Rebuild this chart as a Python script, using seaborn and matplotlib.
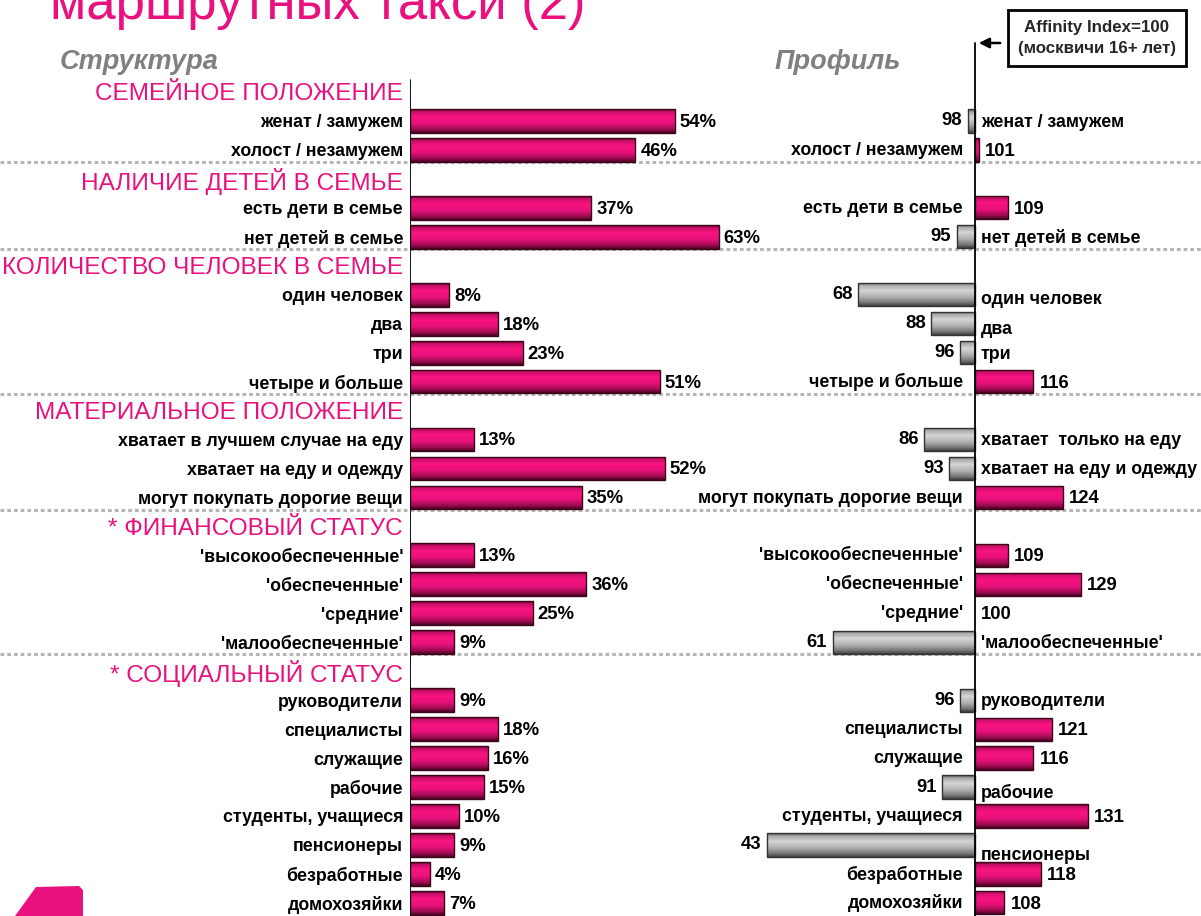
import numpy as np
import pandas as pd
import matplotlib
matplotlib.use("Agg")
import matplotlib.pyplot as plt
import seaborn as sns
from matplotlib import font_manager
from matplotlib.colors import LinearSegmentedColormap
from matplotlib.patches import Polygon, FancyArrowPatch

# ---------------- data ----------------
groups = ["СЕМЕЙНОЕ ПОЛОЖЕНИЕ", "НАЛИЧИЕ ДЕТЕЙ В СЕМЬЕ", "КОЛИЧЕСТВО ЧЕЛОВЕК В СЕМЬЕ",
          "МАТЕРИАЛЬНОЕ ПОЛОЖЕНИЕ", "* ФИНАНСОВЫЙ СТАТУС", "* СОЦИАЛЬНЫЙ СТАТУС"]
group_sizes = [2, 2, 4, 3, 4, 8]
structure_labels = ["женат / замужем", "холост / незамужем",
                    "есть дети в семье", "нет детей в семье",
                    "один человек", "два", "три", "четыре и больше",
                    "хватает в лучшем случае на еду", "хватает на еду и одежду", "могут покупать дорогие вещи",
                    "'высокообеспеченные'", "'обеспеченные'", "'средние'", "'малообеспеченные'",
                    "руководители", "специалисты", "служащие", "рабочие", "студенты, учащиеся",
                    "пенсионеры", "безработные", "домохозяйки"]
structure_pct = [54, 46, 37, 63, 8, 18, 23, 51, 13, 52, 35, 13, 36, 25, 9, 9, 18, 16, 15, 10, 9, 4, 7]
profile_labels = ["женат / замужем", "холост / незамужем",
                  "есть дети в семье", "нет детей в семье",
                  "один человек", "два", "три", "четыре и больше",
                  "хватает  только на еду", "хватает на еду и одежду", "могут покупать дорогие вещи",
                  "'высокообеспеченные'", "'обеспеченные'", "'средние'", "'малообеспеченные'",
                  "руководители", "специалисты", "служащие", "рабочие", "студенты, учащиеся",
                  "пенсионеры", "безработные", "домохозяйки"]
affinity = [98, 101, 109, 95, 68, 88, 96, 116, 86, 93, 124, 109, 129, 100, 61,
            96, 121, 116, 91, 131, 43, 118, 108]
affinity_base = 100
title_text = "маршрутных такси (2)"
left_title = "Структура"
right_title = "Профиль"
box_text = "Affinity Index=100\n(москвичи 16+ лет)"

# ---------------- styling ----------------
W, H = 1201, 916
PINK = "#E8117E"
GREY = "#A8A8A8"
names = {f.name for f in font_manager.fontManager.ttflist}
NARROW = "Liberation Sans Narrow" in names
LBL_FONT = ["Liberation Sans Narrow", "DejaVu Sans"] if NARROW else ["Liberation Sans", "DejaVu Sans"]
LBL_SIZE = 14.5 if NARROW else 12.8
HDR_FONT = ["Liberation Sans", "DejaVu Sans"]

sns.set_theme(style="white")
plt.rcParams["font.family"] = ["Liberation Sans", "DejaVu Sans"]

# slot layout (header row + items per group)
slots, slot_text, item_rows, header_rows, sep_rows = [], [], [], [], []
k = 0
for g, (name, n) in enumerate(zip(groups, group_sizes)):
    header_rows.append(len(slots))
    slots.append(f"H{g}")
    slot_text.append(name)
    for _ in range(n):
        item_rows.append(len(slots))
        slots.append(f"I{k}")
        slot_text.append(structure_labels[k])
        k += 1
    if g < len(groups) - 1:
        sep_rows.append(len(slots) - 1 + 0.42)

df = pd.DataFrame({
    "slot": [f"I{i}" for i in range(len(structure_pct))],
    "pct": structure_pct,
    "dev": np.array(affinity) - affinity_base,
    "sign": ["above" if a >= affinity_base else "below" for a in affinity],
})

ROW0, ROWSTEP = 92.0, 28.96
ylim = ((H - ROW0) / ROWSTEP, -ROW0 / ROWSTEP)

fig = plt.figure(figsize=(W / 100, H / 100), dpi=100)
fig.patch.set_facecolor("white")

def fx(x):
    return x / W

def fy(y):
    return 1 - y / H

# background axes for separators
bg = fig.add_axes([0, 0, 1, 1], zorder=0)
bg.set_xlim(0, 1)
bg.set_ylim(*ylim)
bg.axis("off")
bg.hlines(sep_rows, 0, 1, colors="#b5b5b5", linestyles=(0, (1.2, 1.0)), linewidth=2.2)

# ---------------- left panel ----------------
L_PX, L_SCALE = 410, 4.9
axL = fig.add_axes([fx(L_PX), 0, fx(380), 1], zorder=2)
axL.patch.set_alpha(0)
sns.barplot(data=df, x="pct", y="slot", order=slots, orient="h", color=PINK,
            width=0.82, edgecolor="#3a0618", linewidth=1.0, errorbar=None, ax=axL)

# ---------------- right panel ----------------
R_PX, R_SCALE = 975, 3.65
axR = fig.add_axes([fx(600), 0, fx(601), 1], zorder=2)
axR.patch.set_alpha(0)
sns.barplot(data=df, x="dev", y="slot", order=slots, orient="h", hue="sign",
            palette={"above": PINK, "below": GREY}, dodge=False, legend=False,
            width=0.8, edgecolor="#2a2a2a", linewidth=1.0, errorbar=None, ax=axR)

pink_cmap = LinearSegmentedColormap.from_list(
    "pg", [(0, "#5a0428"), (0.1, "#c80f68"), (0.32, "#f8147f"), (0.6, "#e8117c"), (0.85, "#a00c52"), (1, "#4a0322")])
grey_cmap = LinearSegmentedColormap.from_list(
    "gg", [(0, "#505050"), (0.12, "#a8a8a8"), (0.35, "#d6d6d6"), (0.62, "#b0b0b0"), (0.85, "#7a7a7a"), (1, "#404040")])
grad = np.linspace(0, 1, 64).reshape(-1, 1)

def shade(ax, pink_rule):
    for p in list(ax.patches):
        w = p.get_width()
        if abs(w) < 1e-9:
            p.set_visible(False)
            continue
        is_pink = pink_rule(w)
        cmap = pink_cmap if is_pink else grey_cmap
        x0, y0, h = p.get_x(), p.get_y(), p.get_height()
        im = ax.imshow(grad, extent=[x0, x0 + w, y0 + h, y0], origin="upper",
                       aspect="auto", cmap=cmap, zorder=2, interpolation="bilinear")
        im.set_clip_path(p)
        p.set_facecolor("none")
        p.set_edgecolor("#3a0618" if is_pink else "#333333")
        p.set_zorder(3)

shade(axL, lambda w: True)
shade(axR, lambda w: w > 0)

axL.set_xlim(0, 380 / L_SCALE)
axR.set_xlim(-(R_PX - 600) / R_SCALE, (W - R_PX) / R_SCALE)
for ax in (axL, axR):
    ax.set_ylim(*ylim)
    for s in ax.spines.values():
        s.set_visible(False)
    ax.set_xticks([])
    ax.set_xlabel("")
    ax.set_ylabel("")

# left tick labels (categories + pink headers)
axL.set_yticks(range(len(slots)))
axL.set_yticklabels(slot_text)
axL.tick_params(axis="y", length=0, pad=5)
for i, t in enumerate(axL.get_yticklabels()):
    if i in header_rows:
        t.set_color(PINK)
        t.set_fontsize(17.6)
        t.set_family(HDR_FONT)
    else:
        t.set_color("black")
        t.set_fontsize(LBL_SIZE)
        t.set_family(LBL_FONT)
        t.set_fontweight("bold")
axR.set_yticks([])

axL.axvline(0, ymin=0, ymax=(H - 80) / H, color="black", lw=1.3, zorder=4)
axR.axvline(0, ymin=0, ymax=(H - 43) / H, color="black", lw=1.3, zorder=4)

# left value labels
for row, v in zip(item_rows, structure_pct):
    axL.text(v + 1.0, row + 0.05, f"{v}%", ha="left", va="center", fontsize=LBL_SIZE + 0.5,
             fontweight="bold", family=LBL_FONT, color="black")

# right labels
label_dy = {4: 0.15, 5: 0.2, 18: 0.2, 20: 0.35}
for i, (row, a, lab) in enumerate(zip(item_rows, affinity, profile_labels)):
    d = a - affinity_base
    kw = dict(fontweight="bold", family=LBL_FONT, color="black", va="center")
    if d < 0:
        axR.text(d - 1.5, row, f"{a}", ha="right", fontsize=LBL_SIZE + 0.5, **kw)
        axR.text(1.6, row + label_dy.get(i, 0.05), lab, ha="left", fontsize=LBL_SIZE, **kw)
    else:
        axR.text(-3.3, row + 0.02, lab, ha="right", fontsize=LBL_SIZE, **kw)
        axR.text(d + 1.7, row + 0.05, f"{a}", ha="left", fontsize=LBL_SIZE + 0.5, **kw)

# ---------------- titles & annotations ----------------
fig.text(fx(50), fy(19), title_text, fontsize=38, color=PINK, va="baseline", ha="left",
         family=["Liberation Sans", "DejaVu Sans"])
fig.text(fx(60), fy(62), left_title, fontsize=19.5, color="#808080", style="italic",
         fontweight="bold", va="center", ha="left")
fig.text(fx(775), fy(62), right_title, fontsize=19.5, color="#808080", style="italic",
         fontweight="bold", va="center", ha="left")

fig.text(fx(1097), fy(38), box_text, fontsize=12.5 if NARROW else 12.2, fontweight="bold",
         family=LBL_FONT, ha="center", va="center", linespacing=1.5,
         bbox=dict(boxstyle="square,pad=0.6", fc="white", ec="black", lw=2))
fig.add_artist(FancyArrowPatch(
    (fx(1003), fy(43)), (fx(976), fy(43)), transform=fig.transFigure,
    arrowstyle="-|>,head_length=6,head_width=3", color="black", lw=1.8))

# logo fragment bottom-left
fig.add_artist(Polygon([(fx(15), fy(916)), (fx(36), fy(887)), (fx(79), fy(886)),
                        (fx(83), fy(890)), (fx(83), fy(916))], closed=True,
                       transform=fig.transFigure, fc=PINK, ec="none"))

fig.savefig("out.png", dpi=100, facecolor="white")
